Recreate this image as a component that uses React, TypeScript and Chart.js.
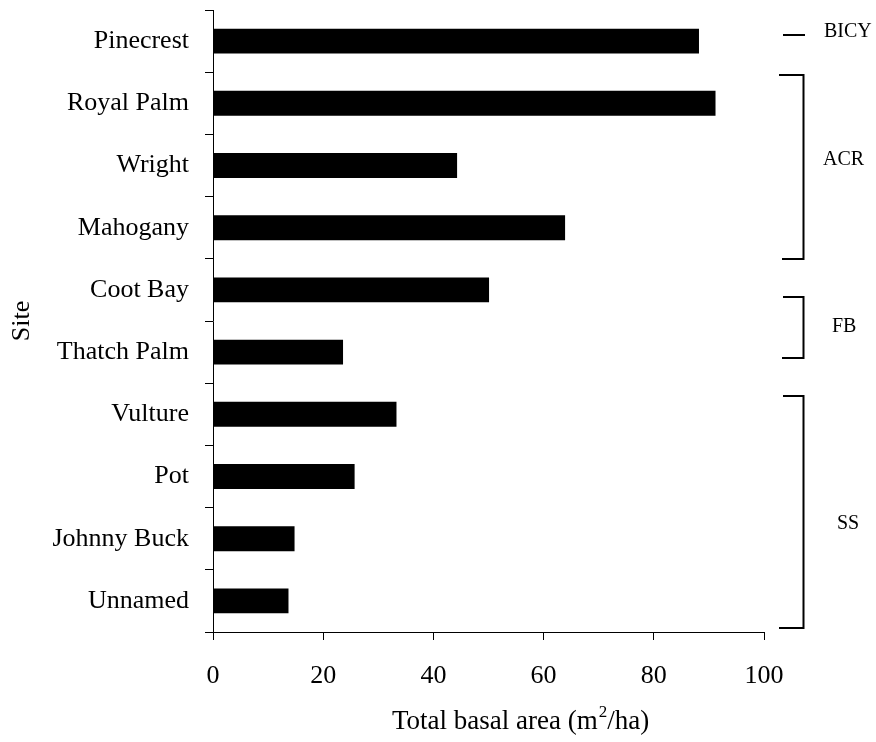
import React, { useEffect, useRef } from "react";
import { Chart, registerables } from "chart.js";

Chart.register(...registerables);

// Sites, top to bottom
const sites = [
  "Pinecrest",
  "Royal Palm",
  "Wright",
  "Mahogany",
  "Coot Bay",
  "Thatch Palm",
  "Vulture",
  "Pot",
  "Johnny Buck",
  "Unnamed",
];

// Total basal area (m²/ha) per site
const basalArea = [88.2, 91.2, 44.3, 63.9, 50.1, 23.6, 33.3, 25.7, 14.8, 13.7];

// X axis ticks
const xTicks = [0, 20, 40, 60, 80, 100];

// Site groups shown to the right of the plot: name, bracket span and label
// position, in category-index units
const groupNames = ["BICY", "ACR", "FB", "SS"];
const groupSpans: [number, number][] = [
  [-0.098, -0.098],
  [0.545, 3.503],
  [4.114, 5.095],
  [5.706, 9.436],
];
const groupLabelAt = [-0.15, 1.9, 4.6, 7.76];

// X axis title, drawn in parts so the exponent sits raised
const xTitleParts = ["Total basal area (m", "2", "/ha)"];

const SERIF = "'Liberation Serif', 'Times New Roman', serif";

const groupBrackets = {
  id: "groupBrackets",
  afterDraw(chart: Chart) {
    const { ctx, chartArea } = chart;
    const y = chart.scales.y;
    const xv = chartArea.right + 39.5;
    const labelX = [824, 823, 832, 837];
    ctx.save();
    ctx.strokeStyle = "#000";
    ctx.lineWidth = 2;
    ctx.fillStyle = "#000";
    ctx.font = `20px ${SERIF}`;
    ctx.textBaseline = "middle";
    ctx.textAlign = "left";
    groupNames.forEach((name, i) => {
      const [a, b] = groupSpans[i];
      const ya = Math.round(y.getPixelForValue(a));
      const yb = Math.round(y.getPixelForValue(b));
      ctx.beginPath();
      if (a === b) {
        ctx.moveTo(chartArea.right + 19, ya);
        ctx.lineTo(chartArea.right + 41, ya);
      } else {
        ctx.moveTo(chartArea.right + (i === 1 ? 15 : 19), ya);
        ctx.lineTo(xv, ya);
        ctx.lineTo(xv, yb);
        ctx.lineTo(chartArea.right + (i === 3 ? 15 : 18), yb);
      }
      ctx.stroke();
      ctx.fillText(name, labelX[i], y.getPixelForValue(groupLabelAt[i]));
    });
    ctx.restore();
  },
};

const xAxisTitle = {
  id: "xAxisTitle",
  afterDraw(chart: Chart) {
    const { ctx } = chart;
    const [pre, sup, post] = xTitleParts;
    const base = 729;
    ctx.save();
    ctx.fillStyle = "#000";
    ctx.textBaseline = "alphabetic";
    ctx.textAlign = "left";
    let x = 392;
    ctx.font = `27px ${SERIF}`;
    ctx.fillText(pre, x, base);
    x += ctx.measureText(pre).width + 1;
    ctx.font = `17px ${SERIF}`;
    ctx.fillText(sup, x, base - 12);
    x += ctx.measureText(sup).width;
    ctx.font = `27px ${SERIF}`;
    ctx.fillText(post, x, base);
    ctx.restore();
  },
};

function BasalAreaChart() {
  const ref = useRef<HTMLCanvasElement | null>(null);

  useEffect(() => {
    if (!ref.current) return;
    const chart = new Chart(ref.current, {
      type: "bar",
      data: {
        labels: sites,
        datasets: [
          {
            data: basalArea,
            backgroundColor: "#000",
            borderWidth: 0,
            barPercentage: 0.4,
            categoryPercentage: 1,
          },
        ],
      },
      options: {
        indexAxis: "y",
        responsive: false,
        animation: false,
        devicePixelRatio: 1,
        layout: { padding: { top: 10, right: 112, bottom: 0, left: 0 } },
        plugins: {
          legend: { display: false },
          tooltip: { enabled: false },
        },
        scales: {
          x: {
            min: 0,
            max: 100,
            afterBuildTicks(scale: any) {
              scale.ticks = xTicks.map((v) => ({ value: v }));
            },
            afterFit(scale: any) {
              scale.height = 110;
              scale.paddingLeft = 0;
              scale.paddingRight = 0;
            },
            border: { display: true, color: "#000", width: 1 },
            grid: {
              drawOnChartArea: false,
              drawTicks: true,
              tickLength: 8,
              color: "#000",
              tickColor: "#000",
            },
            ticks: {
              color: "#000",
              font: { family: SERIF, size: 26 },
              padding: 21,
              maxRotation: 0,
            },
            title: { display: false },
          },
          y: {
            afterFit(scale: any) {
              scale.width = 213;
              scale.paddingTop = 0;
              scale.paddingBottom = 0;
            },
            border: { display: true, color: "#000", width: 1 },
            grid: {
              offset: true,
              drawOnChartArea: false,
              drawTicks: true,
              tickLength: 8,
              color: "#000",
              tickColor: "#000",
            },
            ticks: {
              color: "#000",
              font: { family: SERIF, size: 26 },
              padding: 16,
              autoSkip: false,
            },
            title: {
              display: true,
              text: "Site",
              color: "#000",
              font: { family: SERIF, size: 26 },
              padding: { top: 7, bottom: 0 },
            },
          },
        },
      },
      plugins: [groupBrackets, xAxisTitle],
    });
    return () => chart.destroy();
  }, []);

  return (
    <canvas
      ref={ref}
      width={876}
      height={742}
      style={{ position: "absolute", left: 0, top: 0, display: "block" }}
    />
  );
}

export default function App() {
  return <BasalAreaChart />;
}
